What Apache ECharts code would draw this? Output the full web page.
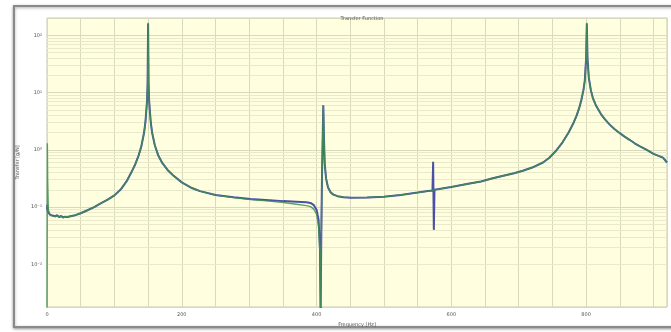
<!DOCTYPE html>
<html><head><meta charset="utf-8">
<script src="https://cdn.jsdelivr.net/npm/echarts@6/dist/echarts.min.js"></script>
<style>html,body{margin:0;padding:0;background:#fff}#c{width:671px;height:332px}</style>
</head><body><div id="c"></div>
<script>
const chartTitle = 'Transfer Function';
const xName = 'Frequency [Hz]';
const yName = 'Transfer [g/N]';
const freq = [0,0.5,1,2,4,6,8,10,12,15,18,21,24,27,30,35,40,50,60,70,79,90,100,109,118,125,131,136,140,144,146,147.5,148.5,149.3,150,150.7,151.5,152.5,154,156,160,165,171,180,187,200,215,227,250,277,302,330,351,370,385,391,396,400,403,405,406,407,408,409,410,411,412,414,417,421,425,431,440,451,475,500,525,550,565,572,573,574,575,600,625,644,660,674,693,706,720,736,745,755,765,774,781,786,790,793,796,798,800,801,802,804,807,810,815,822,828,835,842,850,857,865,872,880,890,900,914,920];
const greenMag = [0.0015,1.3,0.3,0.09,0.075,0.08,0.07,0.074,0.068,0.071,0.066,0.069,0.065,0.068,0.067,0.069,0.071,0.078,0.088,0.1,0.115,0.135,0.16,0.2,0.28,0.4,0.56,0.8,1.15,1.98,3.0,5,7.4,15,165,15,7.4,5,3.0,1.98,1.2,0.8,0.59,0.43,0.36,0.27,0.215,0.19,0.162,0.146,0.135,0.127,0.12,0.112,0.106,0.102,0.092,0.075,0.045,0.015,0.0015,0.03,0.3,1.5,6.0,1.6,0.6,0.32,0.22,0.18,0.165,0.155,0.149,0.146,0.147,0.152,0.163,0.179,0.19,0.195,0.2,0.19,0.2,0.225,0.255,0.28,0.315,0.345,0.39,0.43,0.49,0.6,0.72,0.95,1.35,2.0,2.9,4.0,5.5,7.5,11,16,40,165,40,18,11,8,5.8,4.2,3.4,2.75,2.3,1.95,1.7,1.48,1.3,1.15,1.0,0.85,0.73,0.6,0.56];
const blueMag = [0.09,0.11,0.085,0.08,0.074,0.078,0.071,0.075,0.069,0.072,0.067,0.07,0.066,0.068,0.067,0.069,0.071,0.078,0.088,0.1,0.115,0.135,0.16,0.2,0.28,0.4,0.56,0.8,1.15,1.98,3.0,5,7.4,15,160,15,7.4,5,3.0,1.98,1.2,0.8,0.59,0.43,0.36,0.27,0.215,0.19,0.163,0.148,0.138,0.132,0.127,0.124,0.121,0.118,0.108,0.09,0.06,0.02,0.0015,0.03,0.3,1.5,6.0,1.6,0.6,0.32,0.22,0.18,0.165,0.155,0.149,0.146,0.147,0.152,0.163,0.179,0.19,0.195,0.62,0.04,0.2,0.225,0.255,0.28,0.315,0.345,0.39,0.43,0.49,0.6,0.72,0.95,1.35,2.0,2.9,4.0,5.5,7.5,11,16,40,160,40,18,11,8,5.8,4.2,3.4,2.75,2.3,1.95,1.7,1.48,1.3,1.15,1.0,0.85,0.73,0.6,0.56];
const xMin = 0, xMax = 920, xGridStep = 50, xLabelStep = 200;
const yMin = 0.0018, yMax = 200;
const supMap = {'-':'⁻','0':'⁰','1':'¹','2':'²','3':'³','4':'⁴','5':'⁵','6':'⁶','7':'⁷','8':'⁸','9':'⁹'};

const minorLines = [];
for (let e = -3; e <= 2; e++) for (let k = 2; k <= 9; k++) {
  const v = k * Math.pow(10, e);
  if (v > yMin && v < yMax) minorLines.push({yAxis: v});
}
const gridColor = '#d9dabb';
const minorColor = '#e9e9cc';
const chart = echarts.init(document.getElementById('c'));
chart.setOption({
  animation: false,
  graphic: [{type:'rect', shape:{x:14,y:6,width:700,height:321}, style:{fill:'#fff', stroke:'#8a8a8a', lineWidth:2, shadowBlur:3, shadowColor:'rgba(0,0,0,0.35)', shadowOffsetY:1}, z:-10}],
  title: {text: chartTitle, left: 357, top: 11, textAlign: 'center', textStyle:{fontSize:5, fontWeight:'normal', color:'#555', fontFamily:'DejaVu Sans'}},
  grid: {left: 47, top: 18, width: 620, bottom: 24, show: true, backgroundColor: '#ffffe0', borderColor: '#c8c8b0', borderWidth: 1},
  xAxis: {type:'value', min:xMin, max:xMax, interval:xGridStep, name:xName, nameLocation:'middle', nameGap:15,
    nameTextStyle:{fontSize:5, color:'#555', fontFamily:'DejaVu Sans'},
    axisLine:{show:false}, axisTick:{show:false},
    axisLabel:{fontSize:5, color:'#555', margin:5, fontFamily:'DejaVu Sans', formatter: v => (v % xLabelStep === 0 ? String(v) : '')},
    splitLine:{show:true, lineStyle:{color:gridColor, width:1}}},
  yAxis: {type:'log', logBase:10, min:yMin, max:yMax, name:yName, nameLocation:'middle', nameGap:22,
    nameTextStyle:{fontSize:5, color:'#555', fontFamily:'DejaVu Sans'},
    axisLine:{show:false}, axisTick:{show:false},
    axisLabel:{fontSize:5, color:'#555', margin:5, showMinLabel:false, showMaxLabel:false, fontFamily:'DejaVu Sans',
      formatter: v => { const e = Math.round(Math.log10(v)); return '10' + String(e).split('').map(c => supMap[c]).join(''); }},
    splitLine:{show:true, lineStyle:{color:gridColor, width:1}}},
  series: [
    {type:'line', name:'blue', data: freq.map((f,i)=>[f, blueMag[i]]), showSymbol:false, lineStyle:{color:'#4a4fa8', width:2}, z:2,
     markLine:{silent:true, symbol:'none', label:{show:false}, lineStyle:{color:minorColor, width:1, type:'solid'}, data: minorLines, z:1}},
    {type:'line', name:'green', data: freq.map((f,i)=>[f, greenMag[i]]), showSymbol:false, lineStyle:{color:'#3f8f4f', width:1.4, opacity:0.85}, z:3}
  ]
});
</script></body></html>
